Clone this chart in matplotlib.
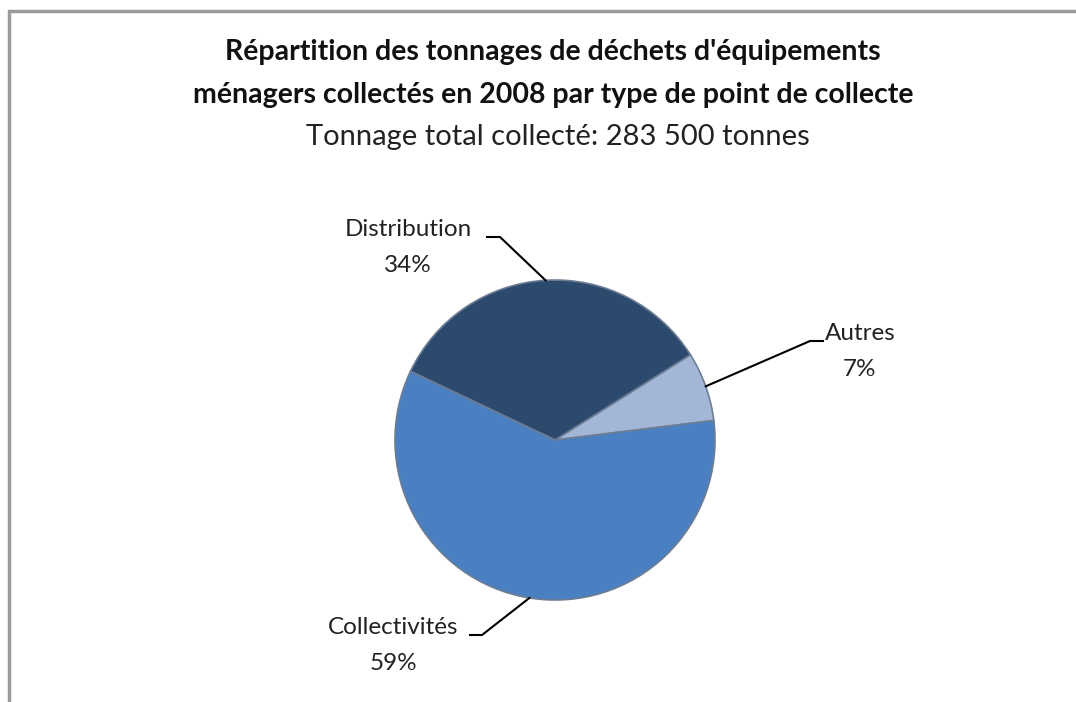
import numpy as np
import matplotlib
matplotlib.use("Agg")
import matplotlib.pyplot as plt

# Tonnages by type of collection point (share of total, %)
categories = ["Autres", "Distribution", "Collectivités"]
shares = [7, 34, 59]
colors = ["#a3b6d6", "#2c4a6e", "#4a80c2"]

title_lines = ["Répartition des tonnages de déchets d'équipements",
               "ménagers collectés en 2008 par type de point de collecte"]
subtitle = "Tonnage total collecté: 283 500 tonnes"

FONT = "Lato"


def main():
    fig = plt.figure(figsize=(10.76, 7.02), dpi=100)
    ax = fig.add_axes([0, 0, 1, 1])

    center = (555, 440)
    radius = 160
    # y axis points down, so counterclock=False turns counter-clockwise on screen
    wedges, _ = ax.pie(shares, colors=colors, center=center, radius=radius,
                       startangle=-7, counterclock=False, frame=True,
                       wedgeprops=dict(edgecolor="#6d7d93", linewidth=1.2))
    ax.set_xlim(0, 1076)
    ax.set_ylim(702, 0)
    ax.set_aspect("equal")
    ax.axis("off")

    # chart frame (cut at the right and bottom)
    ax.plot([9, 9, 1076], [702, 11, 11], color="#9a9a9a", lw=2.5,
            solid_joinstyle="miter", clip_on=False)

    ax.text(553, 52, title_lines[0], ha="center", va="center",
            fontsize=20.5, fontweight="bold", family=FONT, color="#111111")
    ax.text(553, 95, title_lines[1], ha="center", va="center",
            fontsize=20.5, fontweight="bold", family=FONT, color="#111111")
    ax.text(558, 137, subtitle, ha="center", va="center",
            fontsize=21, family=FONT, color="#222222")

    # label text position and leader elbow for each slice
    label_pos = {"Autres": (860, 333),
                 "Distribution": (408, 230),
                 "Collectivités": (393, 628)}
    elbows = {"Autres": [(823, 341), (810, 341)],
              "Distribution": [(487, 237), (500, 237)],
              "Collectivités": [(470, 635), (482, 635)]}

    for w, name, pct in zip(wedges, categories, shares):
        mid = np.deg2rad((w.theta1 + w.theta2) / 2)
        ex = center[0] + radius * np.cos(mid)
        ey = center[1] + radius * np.sin(mid)
        (x0, y0), (x1, y1) = elbows[name]
        ax.plot([x0, x1, ex], [y0, y1, ey], color="black", lw=1.5)
        lx, ly = label_pos[name]
        ax.text(lx, ly, name, ha="center", va="center", fontsize=17.5,
                family=FONT, color="#222222")
        ax.text(lx, ly + 36, f"{pct}%", ha="center", va="center",
                fontsize=17.5, family=FONT, color="#222222")

    fig.savefig("out.png", dpi=100)


if __name__ == "__main__":
    main()
